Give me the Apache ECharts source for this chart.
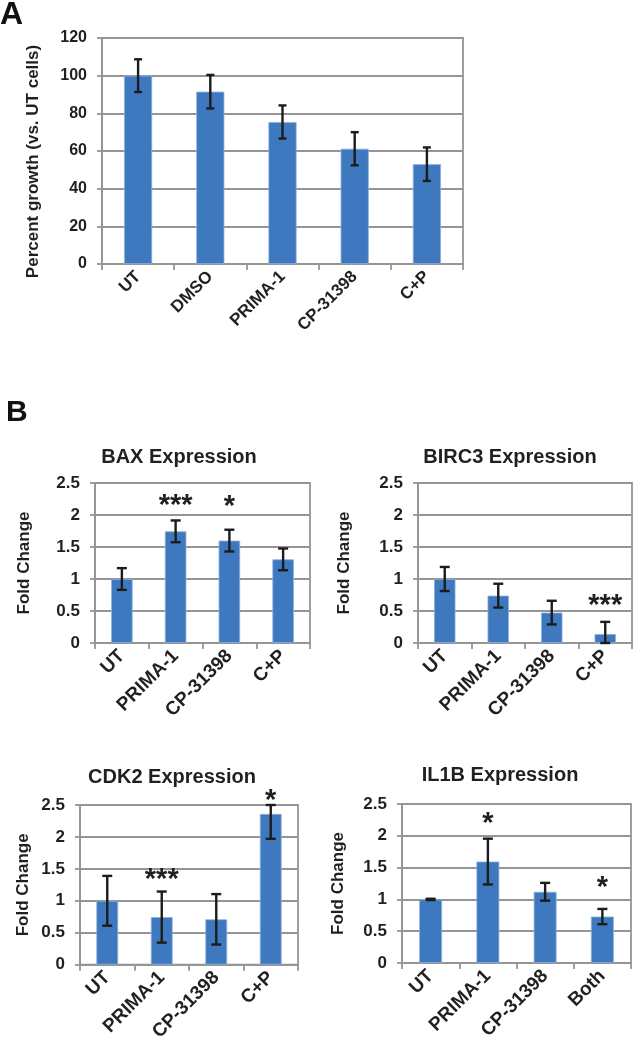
<!DOCTYPE html>
<html>
<head>
<meta charset="utf-8">
<script src="https://cdn.jsdelivr.net/npm/echarts@6/dist/echarts.min.js"></script>
<style>
html,body{margin:0;padding:0;background:#fff;}
#chart{width:634px;height:1044px;}
</style>
</head>
<body>
<div id="chart"></div>
<script>
// ---------- data ----------
const catsA = ['UT', 'DMSO', 'PRIMA-1', 'CP-31398', 'C+P'];
const growthVals = [100, 91.5, 75.4, 61.2, 53.0];
const growthErr = [8.7, 8.9, 8.8, 8.8, 8.9];
const ticksA = [0, 20, 40, 60, 80, 100, 120];

const catsB = ['UT', 'PRIMA-1', 'CP-31398', 'C+P'];
const catsIL1B = ['UT', 'PRIMA-1', 'CP-31398', 'Both'];
const ticksB = [0, 0.5, 1, 1.5, 2, 2.5];

const baxVals = [1.0, 1.745, 1.6, 1.307];
const baxErr = [0.17, 0.17, 0.17, 0.17];
const baxStars = ['', '***', '*', ''];
const baxStarY = [null, 2.23, 2.21, null];

const birc3Vals = [1.0, 0.74, 0.475, 0.14];
const birc3Err = [0.188, 0.186, 0.185, 0.19];
const birc3Stars = ['', '', '', '***'];
const birc3StarY = [null, null, null, 0.675];

const cdk2Vals = [1.0, 0.745, 0.71, 2.36];
const cdk2Err = [0.39, 0.40, 0.395, 0.39];
const cdk2Stars = ['', '***', '', '*'];
const cdk2StarY = [null, 1.41, null, 2.66];

const il1bVals = [1.0, 1.595, 1.12, 0.73];
const il1bErr = [0.01, 0.36, 0.14, 0.12];
const il1bStars = ['', '*', '', '*'];
const il1bStarY = [null, 2.28, null, 1.27];

// ---------- styling ----------
const FONT = '"Liberation Sans", Arial, Helvetica, sans-serif';
const BAR = '#3e79bf';
const GRIDC = '#959595';
const TXT = '#231f20';

const panels = [
  {cats: catsA, vals: growthVals, errs: growthErr, ticks: ticksA, stars: null,
   grid: {left: 102, top: 38, width: 361, height: 226},
   yName: 'Percent growth (vs. UT cells)', nameGap: 60, namePad: [0, 21, 0, 0],
   barWidth: '39%', cap: 8, labelSize: 17, tickSize: 16},
  {cats: catsB, vals: baxVals, errs: baxErr, ticks: ticksB, stars: baxStars, starY: baxStarY,
   grid: {left: 95, top: 483, width: 215, height: 160},
   yName: 'Fold Change', nameGap: 62, namePad: 0, barWidth: '40%', cap: 10, labelSize: 19, tickSize: 17},
  {cats: catsB, vals: birc3Vals, errs: birc3Err, ticks: ticksB, stars: birc3Stars, starY: birc3StarY,
   grid: {left: 418, top: 483, width: 214, height: 160},
   yName: 'Fold Change', nameGap: 65, namePad: 0, barWidth: '40%', cap: 10, labelSize: 19, tickSize: 17},
  {cats: catsB, vals: cdk2Vals, errs: cdk2Err, ticks: ticksB, stars: cdk2Stars, starY: cdk2StarY,
   grid: {left: 80, top: 805, width: 218, height: 160},
   yName: 'Fold Change', nameGap: 48, namePad: 0, barWidth: '40%', cap: 10, labelSize: 19, tickSize: 17},
  {cats: catsIL1B, vals: il1bVals, errs: il1bErr, ticks: ticksB, stars: il1bStars, starY: il1bStarY,
   grid: {left: 402, top: 804, width: 229, height: 159},
   yName: 'Fold Change', nameGap: 55, namePad: 0, barWidth: '40%', cap: 10, labelSize: 19, tickSize: 17}
];

const titles = [
  {text: 'BAX Expression', x: 179, y: 457},
  {text: 'BIRC3 Expression', x: 510, y: 457},
  {text: 'CDK2 Expression', x: 172, y: 777},
  {text: 'IL1B Expression', x: 500, y: 775}
];

const grids = [], xAxes = [], yAxes = [], series = [];
panels.forEach((p, k) => {
  const ymax = p.ticks[p.ticks.length - 1];
  const interval = p.ticks[1] - p.ticks[0];
  grids.push(Object.assign({show: true, borderColor: GRIDC, borderWidth: 1.8, containLabel: false}, p.grid));
  xAxes.push({
    type: 'category', gridIndex: k, data: p.cats,
    axisLine: {show: true, lineStyle: {color: GRIDC, width: 1.8}},
    axisTick: {show: true, length: 6, lineStyle: {color: GRIDC, width: 1.8}},
    axisLabel: {rotate: 45, margin: 10, color: TXT, fontFamily: FONT, fontWeight: 'bold', fontSize: p.labelSize, interval: 0},
    splitLine: {show: false}
  });
  yAxes.push({
    type: 'value', gridIndex: k, min: p.ticks[0], max: ymax, interval: interval,
    name: p.yName, nameLocation: 'middle', nameGap: p.nameGap,
    nameTextStyle: {color: TXT, fontFamily: FONT, fontWeight: 'bold', fontSize: 17, padding: p.namePad},
    axisLine: {show: true, lineStyle: {color: GRIDC, width: 1.8}},
    axisTick: {show: true, length: 5, lineStyle: {color: GRIDC, width: 1.8}},
    axisLabel: {margin: 15, color: TXT, fontFamily: FONT, fontWeight: 'bold', fontSize: p.tickSize},
    splitLine: {show: true, lineStyle: {color: GRIDC, width: 1.8}}
  });
  series.push({
    type: 'bar', xAxisIndex: k, yAxisIndex: k, data: p.vals, barWidth: p.barWidth,
    itemStyle: {color: BAR, borderColor: '#8fb1dd', borderWidth: 0.8},
    silent: true, animation: false
  });
  const capW = p.cap;
  series.push({
    type: 'custom', xAxisIndex: k, yAxisIndex: k, animation: false, silent: true, z: 5,
    data: p.vals.map((v, i) => [i, v, p.errs[i]]),
    renderItem: function (params, api) {
      const i = api.value(0), v = api.value(1), e = api.value(2);
      const top = Math.min(v + e, ymax), bot = Math.max(v - e, 0);
      const a = api.coord([i, top]), b = api.coord([i, bot]);
      const st = {stroke: '#1c1c1c', lineWidth: 2.4};
      return {type: 'group', children: [
        {type: 'line', shape: {x1: a[0], y1: a[1], x2: b[0], y2: b[1]}, style: st},
        {type: 'line', shape: {x1: a[0] - capW / 2, y1: a[1], x2: a[0] + capW / 2, y2: a[1]}, style: st},
        {type: 'line', shape: {x1: b[0] - capW / 2, y1: b[1], x2: b[0] + capW / 2, y2: b[1]}, style: st}
      ]};
    }
  });
  if (p.stars) {
    const starData = [];
    p.stars.forEach((s, i) => { if (s) starData.push([i, p.starY[i], s]); });
    series.push({
      type: 'custom', xAxisIndex: k, yAxisIndex: k, animation: false, silent: true, z: 6,
      data: starData.map(d => [d[0], d[1]]),
      renderItem: function (params, api) {
        const c = api.coord([api.value(0), api.value(1)]);
        const txt = starData[params.dataIndex][2];
        const fs = 29;
        return {type: 'text', x: c[0], y: c[1] + fs * 0.2,
          style: {text: txt, font: 'bold ' + fs + 'px ' + FONT, fill: TXT,
            textAlign: 'center', textVerticalAlign: 'middle', align: 'center', verticalAlign: 'middle'}};
      }
    });
  }
});

const graphics = [
  {type: 'text', x: 0, y: 15, style: {text: 'A', font: 'bold 32px ' + FONT, fill: '#111',
    textAlign: 'left', textVerticalAlign: 'middle', align: 'left', verticalAlign: 'middle'}},
  {type: 'text', x: 6, y: 413, style: {text: 'B', font: 'bold 30px ' + FONT, fill: '#111',
    textAlign: 'left', textVerticalAlign: 'middle', align: 'left', verticalAlign: 'middle'}}
];
titles.forEach(t => graphics.push({type: 'text', x: t.x, y: t.y,
  style: {text: t.text, font: 'bold 20px ' + FONT, fill: TXT,
    textAlign: 'center', textVerticalAlign: 'middle', align: 'center', verticalAlign: 'middle'}}));

const chart = echarts.init(document.getElementById('chart'), null, {renderer: 'canvas'});
chart.setOption({
  animation: false,
  backgroundColor: '#ffffff',
  grid: grids, xAxis: xAxes, yAxis: yAxes, series: series,
  graphic: graphics
});
</script>
</body>
</html>
